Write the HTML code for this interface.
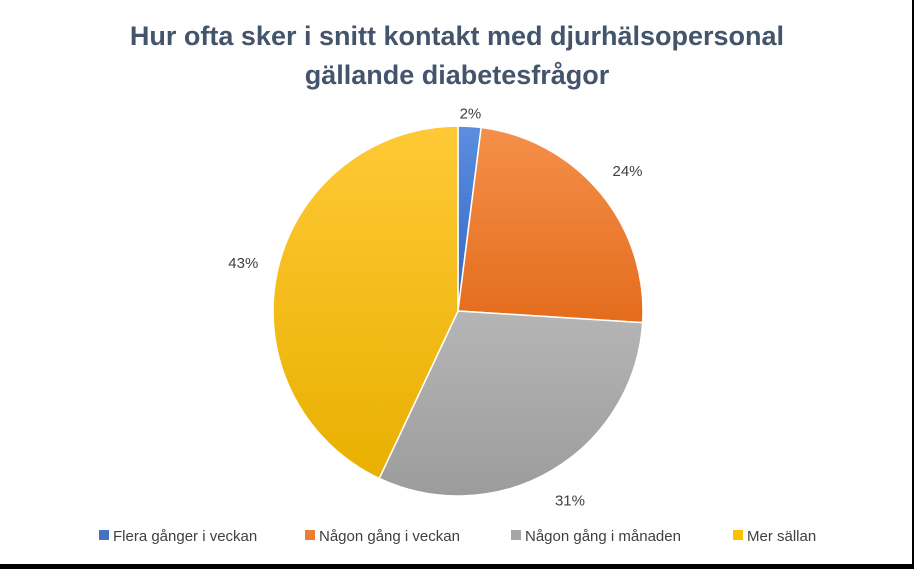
<!DOCTYPE html>
<html><head><meta charset="utf-8"><style>
html,body{margin:0;padding:0;background:#000;}
#chart{position:absolute;left:0;top:0;width:912px;height:564px;background:#fff;font-family:"Liberation Sans",sans-serif;}
</style></head><body>
<div id="chart">
<svg width="912" height="564">
<defs>
<linearGradient id="g0" x1="0" y1="0" x2="0" y2="1"><stop offset="0" stop-color="#5b8ee0"/><stop offset="1" stop-color="#3566c4"/></linearGradient>
<linearGradient id="g1" x1="0" y1="0" x2="0" y2="1"><stop offset="0" stop-color="#f4904a"/><stop offset="1" stop-color="#e46c1c"/></linearGradient>
<linearGradient id="g2" x1="0" y1="0" x2="0" y2="1"><stop offset="0" stop-color="#b5b5b5"/><stop offset="1" stop-color="#9c9c9c"/></linearGradient>
<linearGradient id="g3" x1="0" y1="0" x2="0" y2="1"><stop offset="0" stop-color="#ffc936"/><stop offset="1" stop-color="#e8b000"/></linearGradient>
</defs>
<text x="457" y="45" text-anchor="middle" font-size="27" font-weight="bold" fill="#44546a">Hur ofta sker i snitt kontakt med djurhälsopersonal</text>
<text x="457" y="84" text-anchor="middle" font-size="27" font-weight="bold" fill="#44546a">gällande diabetesfrågor</text>
<g id="slices"></g>
<g id="labels"></g>
<g id="legend"></g>
</svg>
</div>
<script>
const categories=["Flera gånger i veckan","Någon gång i veckan","Någon gång i månaden","Mer sällan"];
const values=[2,24,31,43];
const valueLabels=["2%","24%","31%","43%"];
const fills=["url(#g0)","url(#g1)","url(#g2)","url(#g3)"];
const legendColors=["#4472c4","#ed7d31","#a5a5a5","#ffc000"];
const cx=458,cy=311,r=185;
const NS="http://www.w3.org/2000/svg";
const total=values.reduce((a,b)=>a+b,0);
function pt(a,rad){return [cx+rad*Math.sin(a),cy-rad*Math.cos(a)];}
let acc=0;
const sg=document.getElementById('slices'),lg=document.getElementById('labels');
values.forEach((v,i)=>{
 const a0=acc/total*2*Math.PI;acc+=v;const a1=acc/total*2*Math.PI;
 const p0=pt(a0,r),p1=pt(a1,r);
 const path=document.createElementNS(NS,'path');
 path.setAttribute('d',`M${cx},${cy}L${p0[0]},${p0[1]}A${r},${r} 0 ${a1-a0>Math.PI?1:0} 1 ${p1[0]},${p1[1]}Z`);
 path.setAttribute('fill',fills[i]);path.setAttribute('stroke','#fff');path.setAttribute('stroke-width','1.5');
 
 
 sg.appendChild(path);
 const am=(a0+a1)/2;const lp=pt(am,r+(v<5?13:35));
 const t=document.createElementNS(NS,'text');
 t.setAttribute('x',lp[0]);t.setAttribute('y',lp[1]+5);t.setAttribute('text-anchor','middle');
 t.setAttribute('font-size','15');t.setAttribute('fill','#404040');t.textContent=valueLabels[i];
 
 
 lg.appendChild(t);
});
const leg=document.getElementById('legend');
const lx=[99,305,511,733];
categories.forEach((c,i)=>{
 const g=document.createElementNS(NS,'g');
 
 
 const rc=document.createElementNS(NS,'rect');
 rc.setAttribute('x',lx[i]);rc.setAttribute('y',530);rc.setAttribute('width',10);rc.setAttribute('height',10);rc.setAttribute('fill',legendColors[i]);
 g.appendChild(rc);
 const t=document.createElementNS(NS,'text');
 t.setAttribute('x',lx[i]+14);t.setAttribute('y',541);t.setAttribute('font-size','15');t.setAttribute('fill','#404040');t.textContent=c;
 g.appendChild(t);leg.appendChild(g);
});
</script>
</body></html>
